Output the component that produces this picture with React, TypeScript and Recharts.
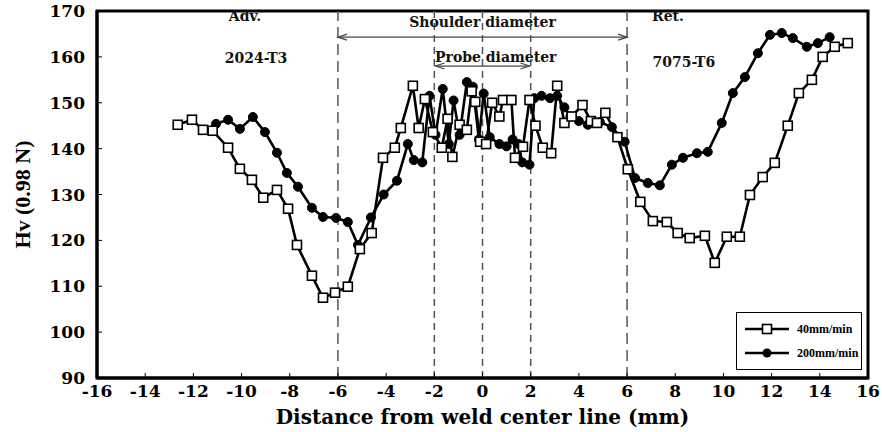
import React from "react";
import {
  LineChart,
  Line,
  XAxis,
  YAxis,
  ReferenceLine,
  ReferenceArea,
  ReferenceDot,
} from "recharts";

// 40 mm/min (open squares)
const slowX = [
  -12.65, -12.06, -11.6, -11.2, -10.56, -10.07, -9.57, -9.1, -8.53, -8.07, -7.7, -7.08, -6.62, -6.12,
  -5.59, -5.09, -4.6, -4.13, -3.64, -3.39, -2.89, -2.65, -2.39, -2.06, -1.69, -1.45, -1.25, -0.95,
  -0.65, -0.45, -0.3, -0.1, 0.15, 0.4, 0.7, 0.85, 1.2, 1.35, 1.68, 1.95, 2.2, 2.5, 2.85, 3.1, 3.4,
  3.7, 4.15, 4.5, 4.75, 5.1, 5.6, 6.03, 6.55, 7.07, 7.65, 8.1, 8.6, 9.23, 9.64, 10.14, 10.68, 11.1,
  11.63, 12.13, 12.67, 13.13, 13.67, 14.12, 14.62, 15.16,
];
const slowHv = [
  145.2, 146.3, 144.1, 143.9, 140.2, 135.6, 133.2, 129.3, 131, 126.9, 119, 112.3, 107.5, 108.6,
  109.9, 118.1, 121.6, 138, 140.2, 144.5, 153.7, 144.5, 150.8, 143.6, 140.2, 146.5, 138.2, 145.2,
  144.1, 152.5, 150.2, 141.5, 141, 150, 147, 150.6, 150.6, 138, 140.4, 150.6, 145, 140.2, 139, 153.7,
  145.6, 147, 149.5, 146, 145.6, 147.8, 142.5, 135.5, 128.4, 124.2, 124, 121.6, 120.5, 121, 115.1,
  120.8, 120.8, 129.9, 133.8, 136.9, 145, 152.1, 155, 160, 162.2, 163,
];

// 200 mm/min (filled circles)
const fastX = [
  -11.06, -10.56, -10.07, -9.53, -9.03, -8.53, -8.12, -7.66, -7.08, -6.62, -6.08, -5.59, -5.17,
  -4.63, -4.1, -3.55, -3.1, -2.85, -2.5, -2.2, -1.95, -1.65, -1.4, -1.2, -0.95, -0.65, -0.4, -0.15,
  0.05, 0.3, 0.7, 1.0, 1.25, 1.5, 1.65, 1.95, 2.15, 2.45, 2.8, 3.1, 3.4, 3.65, 4.0, 4.37, 4.87, 5.37,
  5.9, 6.33, 6.86, 7.36, 7.86, 8.32, 8.9, 9.35, 9.93, 10.39, 10.89, 11.43, 11.93, 12.42, 12.88,
  13.46, 13.92, 14.41,
];
const fastHv = [
  145.4, 146.3, 144.3, 146.9, 143.6, 139.1, 134.7, 131.7, 127.1, 125.1, 124.9, 124, 119, 125, 130,
  133, 141, 137.5, 137, 151.5, 143, 153, 141, 150.5, 143, 154.5, 153.5, 142, 152, 142.5, 141, 140.5,
  142, 141, 137, 136.5, 151, 151.5, 151, 151.5, 149, 147, 146, 145.2, 145.8, 144.7, 141.5, 133.6,
  132.5, 132, 136.5, 138, 139, 139.3, 145.6, 152.1, 155.6, 160.8, 164.8, 165.2, 164.1, 162.2, 163,
  164.3,
];

const xTicks = [-16, -14, -12, -10, -8, -6, -4, -2, 0, 2, 4, 6, 8, 10, 12, 14, 16];
const yTicks = [90, 100, 110, 120, 130, 140, 150, 160, 170];
const seriesNames = ["40mm/min", "200mm/min"];

const slowData = slowX.map((x, i) => ({ x, hv: slowHv[i] }));
const fastData = fastX.map((x, i) => ({ x, hv: fastHv[i] }));

const SERIF = "'DejaVu Serif', serif";
const tickStyle = { fontFamily: SERIF, fontWeight: 700, fontSize: 17, fill: "#000" };

const Square = (p: any) => (
  <rect
    key={p.index}
    x={p.cx - 4.5}
    y={p.cy - 4.5}
    width={9}
    height={9}
    fill="#fff"
    stroke="#000"
    strokeWidth={1.6}
  />
);

const Arrow = (p: any) => {
  const { x1, y1, x2, y2 } = p;
  return (
    <g>
      <line x1={x1} y1={y1} x2={x2} y2={y2} stroke="#444" strokeWidth={1.2} />
      <path d={`M${x1 + 9},${y1 - 3} L${x1},${y1} L${x1 + 9},${y1 + 3}`} fill="none" stroke="#444" strokeWidth={1.2} />
      <path d={`M${x2 - 9},${y2 - 3} L${x2},${y2} L${x2 - 9},${y2 + 3}`} fill="none" stroke="#444" strokeWidth={1.2} />
    </g>
  );
};

const note = (value: string, size = 14) => ({
  value,
  position: "center" as const,
  fill: "#111",
  fontSize: size,
  fontWeight: 700,
  fontFamily: SERIF,
});

export default function App() {
  return (
    <div style={{ position: "absolute", left: 0, top: 0, width: 882, height: 432, background: "#fff" }}>
      <LineChart width={882} height={432} margin={{ top: 11, right: 14, bottom: 0, left: 0 }}>
        <XAxis
          dataKey="x"
          type="number"
          domain={[-16, 16]}
          ticks={xTicks}
          allowDataOverflow
          height={54}
          tickSize={-5}
          tickMargin={12}
          tick={tickStyle}
          axisLine={{ stroke: "#000", strokeWidth: 3 }}
          tickLine={{ stroke: "#000", strokeWidth: 1 }}
          label={{
            content: ({ viewBox }: any) => (
              <text
                x={viewBox.x + viewBox.width / 2}
                y={viewBox.y + 46}
                textAnchor="middle"
                fontFamily={SERIF}
                fontWeight={700}
                fontSize={20}
                fill="#000"
              >
                Distance from weld center line (mm)
              </text>
            ),
          }}
        />
        <YAxis
          type="number"
          domain={[90, 170]}
          ticks={yTicks}
          width={97}
          tickSize={-5}
          tickMargin={17}
          tick={tickStyle}
          axisLine={{ stroke: "#000", strokeWidth: 3 }}
          tickLine={{ stroke: "#000", strokeWidth: 1 }}
          label={{
            content: ({ viewBox }: any) => (
              <text
                x={22}
                y={viewBox.y + viewBox.height / 2}
                transform={`rotate(-90 22 ${viewBox.y + viewBox.height / 2})`}
                textAnchor="middle"
                dominantBaseline="central"
                fontFamily="'Liberation Serif', serif"
                fontWeight={700}
                fontSize={22}
                fill="#000"
              >
                Hv (0.98 N)
              </text>
            ),
          }}
        />
        <ReferenceArea x1={-16} x2={16} y1={90} y2={170} fill="none" stroke="#000" strokeWidth={3} />
        <ReferenceLine x={-6} stroke="#555" strokeWidth={1.5} strokeDasharray="11 6" />
        <ReferenceLine x={6} stroke="#555" strokeWidth={1.5} strokeDasharray="11 6" />
        <ReferenceLine x={-2} stroke="#555" strokeWidth={1.5} strokeDasharray="7 5" />
        <ReferenceLine x={0} stroke="#555" strokeWidth={1.5} strokeDasharray="7 5" />
        <ReferenceLine x={2} stroke="#555" strokeWidth={1.5} strokeDasharray="7 5" />
        <ReferenceLine segment={[{ x: -6, y: 164.3 }, { x: 6, y: 164.3 }]} shape={Arrow} />
        <ReferenceLine segment={[{ x: -1.95, y: 158 }, { x: 1.95, y: 158 }]} shape={Arrow} />
        <ReferenceDot x={-9.86} y={168.9} r={0} fill="none" stroke="none" label={note("Adv.")} />
        <ReferenceDot x={-9.4} y={159.8} r={0} fill="none" stroke="none" label={note("2024-T3")} />
        <ReferenceDot x={0} y={167.6} r={0} fill="none" stroke="none" label={note("Shoulder diameter")} />
        <ReferenceDot x={0.55} y={160} r={0} fill="none" stroke="none" label={note("Probe diameter")} />
        <ReferenceDot x={7.7} y={168.9} r={0} fill="none" stroke="none" label={note("Ret.")} />
        <ReferenceDot x={8.36} y={158.9} r={0} fill="none" stroke="none" label={note("7075-T6")} />
        <Line
          data={fastData}
          dataKey="hv"
          name={seriesNames[1]}
          stroke="#000"
          strokeWidth={2.6}
          dot={{ r: 4.5, fill: "#000", stroke: "#000", strokeWidth: 1 }}
          isAnimationActive={false}
        />
        <Line
          data={slowData}
          dataKey="hv"
          name={seriesNames[0]}
          stroke="#000"
          strokeWidth={2.6}
          dot={Square}
          isAnimationActive={false}
        />
      </LineChart>
      <div
        style={{
          position: "absolute",
          left: 736,
          top: 312,
          width: 124,
          height: 56,
          border: "1.5px solid #000",
          background: "#fff",
          fontFamily: "'Liberation Serif', serif",
          fontWeight: 700,
          fontSize: 12,
          color: "#000",
        }}
      >
        {seriesNames.map((n, i) => (
          <div
            key={n}
            style={{ display: "flex", alignItems: "center", height: 24, marginTop: i === 0 ? 4 : 0, whiteSpace: "nowrap" }}
          >
            <svg width={48} height={14} style={{ marginLeft: 6, flex: "none" }}>
              <line x1={2} y1={7} x2={46} y2={7} stroke="#000" strokeWidth={2.4} />
              {i === 0 ? (
                <rect x={19.5} y={2.5} width={9} height={9} fill="#fff" stroke="#000" strokeWidth={1.6} />
              ) : (
                <circle cx={24} cy={7} r={4.5} fill="#000" />
              )}
            </svg>
            <span style={{ marginLeft: 6 }}>{n}</span>
          </div>
        ))}
      </div>
    </div>
  );
}
